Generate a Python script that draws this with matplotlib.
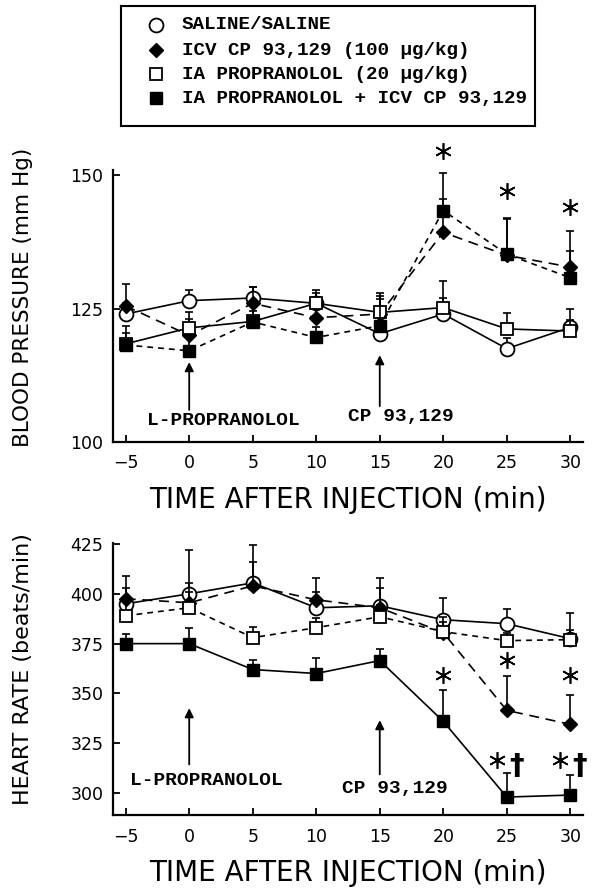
import numpy as np
import matplotlib
matplotlib.use('Agg')
import matplotlib.pyplot as plt

# Data
time = [-5, 0, 5, 10, 15, 20, 25, 30]

bp_saline = [124, 126.5, 127, 126, 120.3, 124, 117.5, 121.5]
bp_saline_err = [2, 2, 2, 2.5, 2, 3, 2, 3.5]
bp_cp = [125.5, 120, 126, 123.3, 124, 139.3, 135, 132.8]
bp_cp_err = [4.2, 3, 3, 3, 4, 6.3, 7, 6.8]
bp_prop = [118.4, 121.4, 122.6, 126, 124.3, 125.2, 121.2, 120.8]
bp_prop_err = [2, 3, 2, 2, 3, 5, 3, 2]
bp_both = [118.2, 117.1, 122.5, 119.6, 121.8, 143.4, 135.2, 130.8]
bp_both_err = [3.5, 3, 3, 2, 5, 7, 6.7, 5]

hr_saline = [395, 400, 405.5, 393, 394, 387, 385, 377.5]
hr_saline_err = [8, 22, 19, 8, 14, 11, 7.5, 13]
hr_cp = [397.5, 395.5, 404, 397, 393, 380.5, 341.5, 334.5]
hr_cp_err = [11.5, 10, 12, 11, 10, 8, 17.5, 14.5]
hr_prop = [389, 393, 378, 383, 388.5, 381, 376.5, 377]
hr_prop_err = [7, 8, 5.5, 5, 6, 5, 4, 5]
hr_both = [375, 375, 362, 360, 366.5, 336, 298, 299]
hr_both_err = [5, 8, 5, 8, 6, 15.5, 12, 10]

# significance marks
bp_star_x = [20, 25, 30]
bp_star_y = [154.5, 147, 144]
hr_star_x = [20, 25, 30]
hr_star_y = [359.5, 367, 359.5]
hr_dag_x = [25, 30]
hr_dag_y = [316.5, 316.5]

legend_labels = ['SALINE/SALINE',
                 'ICV CP 93,129 (100 \u03bcg/kg)',
                 'IA PROPRANOLOL (20 \u03bcg/kg)',
                 'IA PROPRANOLOL + ICV CP 93,129']

MONO = 'Liberation Mono'
plt.rcParams['font.family'] = 'DejaVu Sans'

fig = plt.figure(figsize=(5.92, 8.92), dpi=100)
W, H = 592, 892
ax1 = fig.add_axes([113 / W, 1 - 442 / H, 470 / W, 272 / H])
ax2 = fig.add_axes([113 / W, 1 - 815 / H, 470 / W, 272 / H])

styles = {
    'saline': dict(marker='o', mfc='white', ms=10, mew=1.3),
    'cp': dict(marker='D', mfc='black', ms=7, mew=1),
    'prop': dict(marker='s', mfc='white', ms=8, mew=1.3),
    'both': dict(marker='s', mfc='black', ms=8, mew=1),
}


def draw_series(ax, y, err, key, ls, z):
    ax.errorbar(time, y, yerr=[np.zeros(len(err)), err], fmt='none',
                ecolor='black', elinewidth=1.2, capsize=3, capthick=1.2, zorder=z)
    ax.plot(time, y, color='black', linestyle=ls, lw=1.2, mec='black',
            zorder=z + 0.5, **styles[key])


draw_series(ax1, bp_saline, bp_saline_err, 'saline', '-', 2)
draw_series(ax1, bp_cp, bp_cp_err, 'cp', (0, (6, 4)), 3)
draw_series(ax1, bp_prop, bp_prop_err, 'prop', '-', 4)
draw_series(ax1, bp_both, bp_both_err, 'both', (0, (3.5, 3)), 5)

draw_series(ax2, hr_saline, hr_saline_err, 'saline', '-', 2)
draw_series(ax2, hr_cp, hr_cp_err, 'cp', (0, (6, 4)), 3)
draw_series(ax2, hr_prop, hr_prop_err, 'prop', (0, (3.5, 3)), 4)
draw_series(ax2, hr_both, hr_both_err, 'both', '-', 5)

star = dict(linestyle='none', marker=(6, 2, 0), ms=12, mew=1.2,
            color='black', clip_on=False)
ax1.plot(bp_star_x, bp_star_y, **star)
ax2.plot(hr_star_x, hr_star_y, **star)
ax2.plot([x - 0.8 for x in hr_dag_x], hr_dag_y, **star)
for x, y in zip(hr_dag_x, hr_dag_y):
    ax2.text(x + 0.75, y - 3, '\u2020', fontsize=21, ha='center', va='center',
             family='DejaVu Sans', weight='bold')

arrow = dict(arrowstyle='-|>', color='black', lw=1.3, mutation_scale=13)
ax1.annotate('', xy=(0, 115.5), xytext=(0, 105.5), arrowprops=arrow)
ax1.annotate('', xy=(15, 116.8), xytext=(15, 106.2), arrowprops=arrow)
ax1.text(-3.3, 104, 'L-PROPRANOLOL', family=MONO, weight='bold',
         fontsize=14, va='center', ha='left')
ax1.text(12.5, 104.8, 'CP 93,129', family=MONO, weight='bold',
         fontsize=14, va='center', ha='left')

ax2.annotate('', xy=(0, 344), xytext=(0, 313), arrowprops=arrow)
ax2.annotate('', xy=(15, 338), xytext=(15, 308), arrowprops=arrow)
ax2.text(-4.66, 306.5, 'L-PROPRANOLOL', family=MONO, weight='bold',
         fontsize=14, va='center', ha='left')
ax2.text(12.0, 302.5, 'CP 93,129', family=MONO, weight='bold',
         fontsize=14, va='center', ha='left')

for ax in (ax1, ax2):
    ax.set_xlim(-6, 31)
    ax.set_xticks(time)
    ax.spines['top'].set_visible(False)
    ax.spines['right'].set_visible(False)
    ax.spines['left'].set_linewidth(1.6)
    ax.spines['bottom'].set_linewidth(1.6)
    ax.tick_params(direction='in', length=5, width=1.3, labelsize=12.5)
    ax.tick_params(axis='x', pad=9)
    ax.tick_params(axis='y', pad=7)
    ax.set_xlabel('TIME AFTER INJECTION (min)', fontsize=20, labelpad=10)

ax1.set_ylim(100, 151)
ax1.set_yticks([100, 125, 150])
ax1.set_ylabel('BLOOD PRESSURE (mm Hg)', fontsize=15.5)
ax1.yaxis.set_label_coords(-0.17, 0.53)

ax2.set_ylim(289, 425.5)
ax2.set_yticks([300, 325, 350, 375, 400, 425])
ax2.set_ylabel('HEART RATE (beats/min)', fontsize=16)
ax2.yaxis.set_label_coords(-0.17, 0.537)

# legend box
lax = fig.add_axes([121 / W, 1 - 126 / H, 414 / W, 120 / H])
lax.set_xlim(0, 1)
lax.set_ylim(0, 1)
lax.set_xticks([])
lax.set_yticks([])
for s in lax.spines.values():
    s.set_linewidth(1.5)
rows = [0.842, 0.633, 0.433, 0.233]
for key, label, yy in zip(['saline', 'cp', 'prop', 'both'], legend_labels, rows):
    lax.plot([0.0845], [yy], linestyle='none', color='black', mec='black',
             **styles[key])
    lax.text(0.147, yy, label, family=MONO, weight='bold', fontsize=13.9,
             va='center', ha='left')

plt.savefig('out.png', dpi=100)
